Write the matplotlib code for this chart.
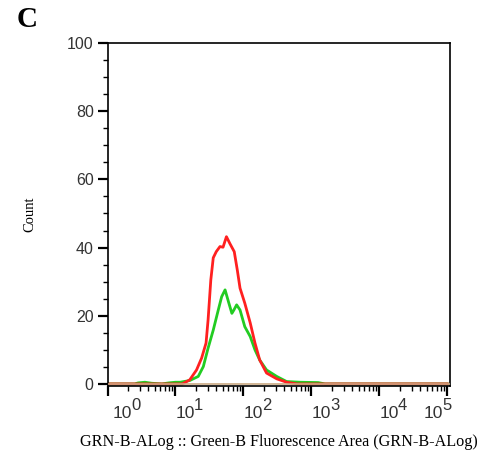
import numpy as np
import matplotlib.pyplot as plt
from matplotlib import transforms

# DATA (x in decades, y = count)
red_log = [0.0, 1.10, 1.21, 1.31, 1.385, 1.45, 1.48, 1.52, 1.556, 1.60, 1.655, 1.70, 1.75,
           1.80, 1.865, 1.91, 1.95, 2.02, 2.10, 2.17, 2.24, 2.34, 2.49, 2.635, 2.79, 5.0]
red_count = [0, 0, 1.2, 4.1, 7.6, 12, 18.8, 30.5, 37, 38.8, 40.3, 40.1, 43.2,
             41.2, 38.8, 33.4, 28.1, 23.7, 17.9, 12, 7, 3.2, 1.5, 0.5, 0, 0]

green_log = [0.0, 0.40, 0.45, 0.55, 0.65, 0.80, 0.90, 1.00, 1.07, 1.21, 1.335, 1.41, 1.48,
             1.556, 1.63, 1.68, 1.73, 1.78, 1.83, 1.86, 1.90, 1.95, 2.02, 2.10, 2.17,
             2.24, 2.34, 2.49, 2.635, 2.83, 3.10, 3.20, 5.0]
green_count = [0, 0, 0.3, 0.5, 0.2, 0, 0.3, 0.5, 0.5, 1, 2.2, 5.1, 10.5,
               15.8, 21.7, 25.6, 27.6, 24.1, 20.7, 21.7, 23.2, 21.7, 16.8, 13.9, 10,
               7, 4.1, 2.2, 0.7, 0.5, 0.4, 0, 0]

y_ticks = [0, 20, 40, 60, 80, 100]
x_decades = [0, 1, 2, 3, 4, 5]

fig = plt.figure(figsize=(4.8, 4.58), dpi=100)
ax = fig.add_axes([0.224, 0.158, 0.7135, 0.748])

ax.plot(10.0 ** np.array(green_log), green_count, color='#22cc22', lw=2.0, solid_joinstyle='round')
ax.plot(10.0 ** np.array(red_log), red_count, color='#ff2020', lw=2.0, solid_joinstyle='round')
ax.axhline(0, color='#c8a882', lw=1.2, zorder=3)

ax.set_xscale('log')
ax.set_xlim(1, 10 ** 5.04)
ax.set_ylim(-0.5, 100)

# y axis ticks
ax.set_yticks(y_ticks)
ax.set_yticks(np.arange(0, 101, 5), minor=True)
ax.tick_params(axis='y', which='major', direction='out', length=7, width=1.6, pad=3,
               labelsize=11.5, labelcolor='#333333')
ax.tick_params(axis='y', which='minor', direction='out', length=3.5, width=1.0)
for lab in ax.get_yticklabels():
    lab.set_fontfamily('Liberation Sans')

# x axis ticks
ax.set_xticks([10.0 ** d for d in x_decades])
ax.set_xticks([m * 10.0 ** d for d in x_decades[:-1] for m in range(2, 10)], minor=True)
ax.set_xticklabels([])
ax.set_xticklabels([], minor=True)
ax.tick_params(axis='x', which='major', direction='out', length=7, width=1.6)
ax.tick_params(axis='x', which='minor', direction='out', length=3.5, width=1.0)

for s in ax.spines.values():
    s.set_linewidth(1.2)

# x tick labels "10" with a raised exponent
trans = transforms.blended_transform_factory(ax.transData, ax.transAxes)
label_shift = [4, 0, 0, 0, 0, -17]  # points
for d, sh in zip(x_decades, label_shift):
    ax.annotate('10', xy=(10.0 ** d, 0), xycoords=trans, xytext=(sh, -14.5),
                textcoords='offset points', ha='left', va='top', fontsize=12.5,
                color='#333333', family='Liberation Sans', annotation_clip=False)
    ax.annotate(str(d), xy=(10.0 ** d, 0), xycoords=trans, xytext=(sh + 13.5, -9),
                textcoords='offset points', ha='left', va='top', fontsize=12,
                color='#333333', family='Liberation Sans', annotation_clip=False)

ax.set_xlabel('GRN-B-ALog :: Green-B Fluorescence Area (GRN-B-ALog)',
              family='Liberation Serif', fontsize=11.6, labelpad=24)
ax.set_ylabel('Count', family='Liberation Serif', fontsize=10.5, labelpad=22)

fig.text(0.035, 0.942, 'C', family='Liberation Serif', fontweight='bold', fontsize=21)

fig.savefig('out.png', dpi=100)
